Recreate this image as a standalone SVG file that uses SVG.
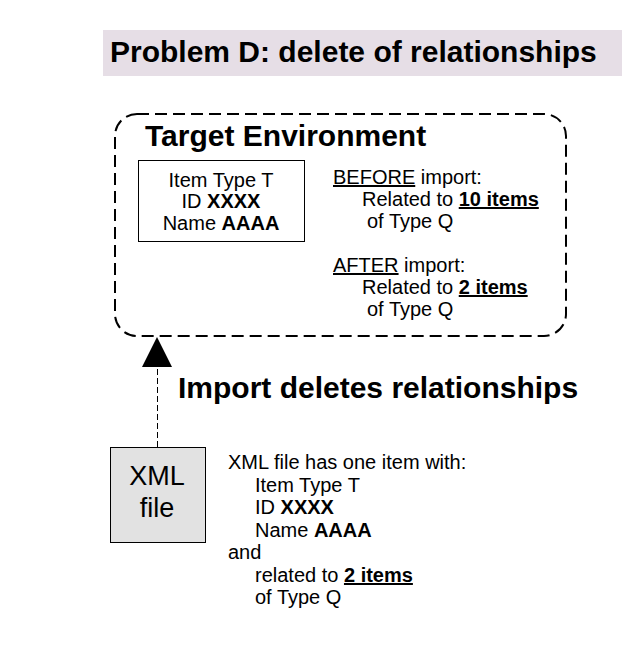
<svg xmlns="http://www.w3.org/2000/svg" width="623" height="668" viewBox="0 0 623 668">
<style>
text{font-family:"Liberation Sans",Arial,sans-serif;fill:#000}
.t{font-size:20px}
.b{font-weight:bold}
.h{font-size:30px;font-weight:bold}
.u{text-decoration:underline}
</style>
<rect width="623" height="668" fill="#fff"/>
<g id="title">
<rect x="103" y="30" width="519" height="46" fill="#e6dee6"/>
<text x="110" y="62" class="h">Problem D: delete of relationships</text>
</g>
<g id="target">
<rect x="115" y="114" width="451" height="222" rx="22" fill="none" stroke="#000" stroke-width="2" stroke-dasharray="12,6"/>
<text x="145" y="146" class="h">Target Environment</text>
<g id="item">
<rect x="138.5" y="160.5" width="166" height="81" fill="#fff" stroke="#000" stroke-width="1"/>
<text x="221" y="187" class="t" text-anchor="middle">Item Type T</text>
<text x="221" y="208" class="t" text-anchor="middle">ID <tspan class="b">XXXX</tspan></text>
<text x="221" y="230" class="t" text-anchor="middle">Name <tspan class="b">AAAA</tspan></text>
</g>
<g id="status">
<text x="333" y="184" class="t"><tspan class="u">BEFORE</tspan> import:</text>
<text x="362" y="206" class="t">Related to <tspan class="b u">10 items</tspan></text>
<text x="367" y="228" class="t">of Type Q</text>
<text x="333" y="272" class="t"><tspan class="u">AFTER</tspan> import:</text>
<text x="362" y="294" class="t">Related to <tspan class="b u">2 items</tspan></text>
<text x="367" y="316" class="t">of Type Q</text>
</g>
</g>
<g id="connectors">
<line x1="157.5" y1="447" x2="157.5" y2="366" stroke="#000" stroke-width="1" stroke-dasharray="6,3" shape-rendering="crispEdges"/>
<polygon points="157,337 172,367 142,367" fill="#000"/>
<text x="178" y="398" class="h">Import deletes relationships</text>
</g>
<g id="xml">
<rect x="110.5" y="447.5" width="95" height="95" fill="#e2e2e2" stroke="#000" stroke-width="1"/>
<text x="157" y="485" font-size="27" text-anchor="middle">XML</text>
<text x="157" y="517" font-size="27" text-anchor="middle">file</text>
</g>
<g id="xmldesc">
<text x="228" y="469" class="t">XML file has one item with:</text>
<text x="255" y="492" class="t">Item Type T</text>
<text x="255" y="514" class="t">ID <tspan class="b">XXXX</tspan></text>
<text x="255" y="537" class="t">Name <tspan class="b">AAAA</tspan></text>
<text x="228" y="559" class="t">and</text>
<text x="255" y="582" class="t">related to <tspan class="b u">2 items</tspan></text>
<text x="255" y="604" class="t">of Type Q</text>
</g>
</svg>
